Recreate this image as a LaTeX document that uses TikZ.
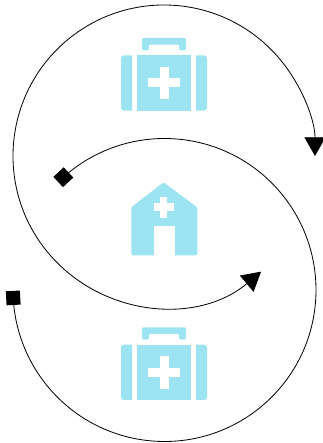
\documentclass[tikz,border=0pt]{standalone}
\usetikzlibrary{arrows.meta}
\definecolor{careblue}{HTML}{9CE4F1}
\tikzset{
    >={Triangle[length=16pt,width=18pt]},
    ringline/.style={line width=0.7pt},
    endmark/.style={fill=black, inner sep=0pt, minimum size=12pt},
    kit/.pic={
        \fill[careblue] (-32,-27.7) [rounded corners=2.5pt] -- (-43,-27.7) -- (-43,27.7) [sharp corners] -- (-32,27.7) -- cycle;
        \fill[careblue] (32,-27.7) [rounded corners=2.5pt] -- (43,-27.7) -- (43,27.7) [sharp corners] -- (32,27.7) -- cycle;
        \fill[careblue] (-27.2,-27.7) rectangle (27.2,27.7);
        \fill[careblue, rounded corners=1pt] (-21.8,32.7) -- (-21.8,45) -- (21.8,45)
            -- (21.8,32.7) -- (15.2,32.7) -- (15.2,38.3) -- (-15.2,38.3) -- (-15.2,32.7) -- cycle;
        \fill[white] (-16.3,-4.5) rectangle (16.3,4.5);
        \fill[white] (-4.5,-16.3) rectangle (4.5,16.3);
    }
}
\begin{document}
\begin{tikzpicture}[x=0.03cm, y=0.03cm]
    \useasboundingbox (0,0) rectangle (322,443);

    % icons
    \pic at (164,360) {kit};
    \pic at (164,70.7) {kit};

    \fill[careblue, rounded corners=1pt] (131.3,187.7) -- (131.3,235.7) -- (163.5,260.7)
        -- (197.3,235.7) -- (197.3,187.7) -- cycle;
    \fill[white] (154,187) rectangle (174.7,217);
    \fill[white] (154,231.7) rectangle (174,239.7);
    \fill[white] (160.3,225.3) rectangle (167.3,246);

    % the two rings
    \coordinate (ringA) at (164,287);
    \coordinate (ringB) at (164.5,153);

    \path (ringA) ++(-50:151) coordinate (tipA);
    \path (ringB) ++(131.9:151.5) node[endmark, rotate=43] (markB) {};
    \path (ringB) ++(-177:151.5) node[endmark, rotate=3] (markC) {};

    \draw[ringline, <->] (tipA) arc[start angle=-50, end angle=-360, radius=151];
    \draw[ringline] (markB.center) arc[start angle=131.9, end angle=-177, radius=151.5];
\end{tikzpicture}
\end{document}
